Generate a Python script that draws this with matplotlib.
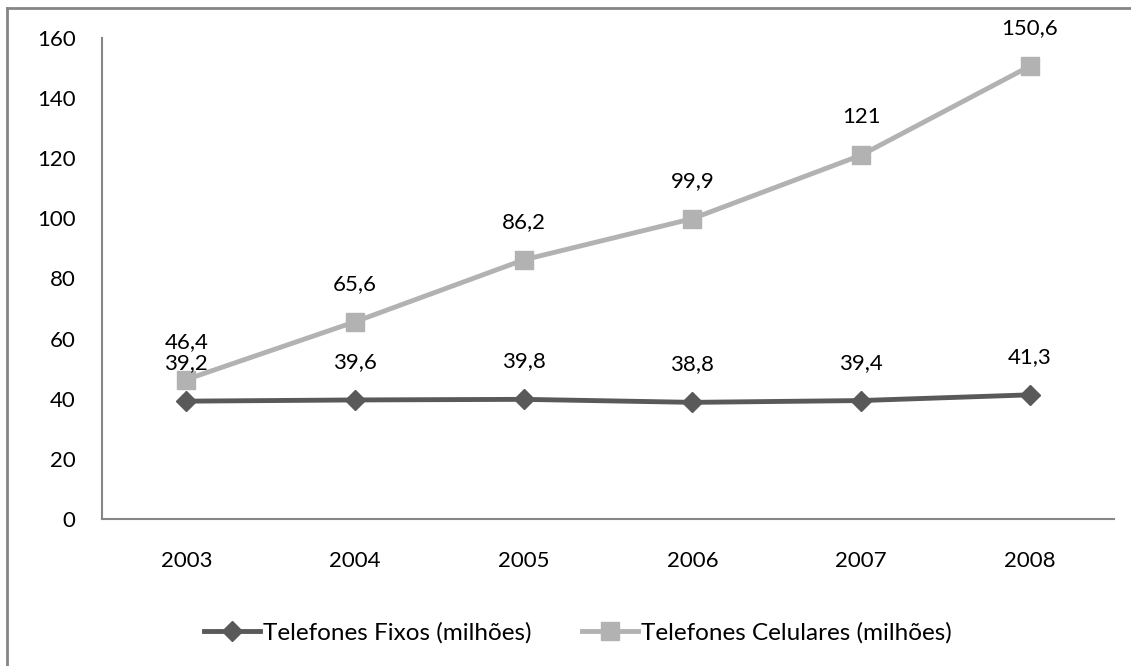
import matplotlib.pyplot as plt
from matplotlib.lines import Line2D

plt.rcParams['font.family'] = ['Lato', 'DejaVu Sans']

anos = ['2003', '2004', '2005', '2006', '2007', '2008']
fixos = [39.2, 39.6, 39.8, 38.8, 39.4, 41.3]
celulares = [46.4, 65.6, 86.2, 99.9, 121, 150.6]


def rotulo(v):
    return f'{v:g}'.replace('.', ',')


fig = plt.figure(figsize=(11.31, 6.66), dpi=100)
ax = fig.add_axes([0.0902, 0.2207, 0.8948, 0.7223])

x = list(range(len(anos)))
cor_fixos = '#595959'
cor_cel = '#b2b2b2'

ax.plot(x, celulares, color=cor_cel, lw=3.5, marker='s', ms=13.5,
        label='Telefones Celulares (milhões)', zorder=3)
ax.plot(x, fixos, color=cor_fixos, lw=3.5, marker='D', ms=10.5,
        label='Telefones Fixos (milhões)', zorder=4)

# rótulos de valor acima de cada ponto
for serie in (celulares, fixos):
    for xi, v in zip(x, serie):
        ax.annotate(rotulo(v), (xi, v), xytext=(0, 20), textcoords='offset points',
                    ha='center', va='bottom', fontsize=16)

ax.set_xlim(-0.5, len(anos) - 0.5)
ax.set_ylim(0, 160)
ax.set_yticks(range(0, 161, 20))
ax.set_xticks(x)
ax.set_xticklabels(anos)
ax.tick_params(axis='both', length=0, labelsize=16)
ax.tick_params(axis='y', pad=19)
ax.tick_params(axis='x', pad=23)

for s in ['top', 'right']:
    ax.spines[s].set_visible(False)
for s in ['left', 'bottom']:
    ax.spines[s].set_color('#868686')
    ax.spines[s].set_linewidth(1.5)

# legenda embaixo, fixos primeiro
handles = [
    Line2D([], [], color=cor_fixos, lw=3.5, marker='D', ms=10.5),
    Line2D([], [], color=cor_cel, lw=3.5, marker='s', ms=13.5),
]
fig.legend(handles, ['Telefones Fixos (milhões)', 'Telefones Celulares (milhões)'],
           loc='center', bbox_to_anchor=(0.511, 0.05), ncol=2, frameon=False,
           fontsize=17.5, handlelength=2.3, handletextpad=0.1, columnspacing=2.1)

# moldura externa do gráfico
fig.add_artist(Line2D([0.0062, 0.0062], [0.0, 0.988], transform=fig.transFigure,
                      color='#868686', lw=2))
fig.add_artist(Line2D([0.0062, 1.0], [0.988, 0.988], transform=fig.transFigure,
                      color='#868686', lw=2))

fig.savefig('out.png', dpi=100)
